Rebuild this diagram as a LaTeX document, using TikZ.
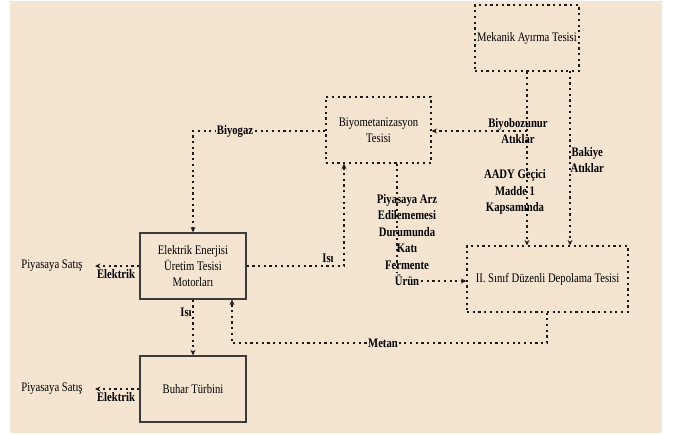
\documentclass[tikz,border=0pt]{standalone}
\usepackage{fontspec}
\setmainfont{Liberation Serif}[FakeStretch=0.82]
\usetikzlibrary{arrows.meta}
\definecolor{bg}{HTML}{F4E4D0}
\definecolor{ink}{HTML}{1A1A1A}
\tikzset{
  dl/.style={draw=ink, line width=1.1pt, dash pattern=on 2.2pt off 3.5pt},
  arr/.style={dl, -{Stealth[length=5.5pt,width=5pt]}},
  dbox/.style={dl, rectangle, minimum height=66pt, align=center, inner sep=0pt,
     font=\fontsize{13}{16}\selectfont},
  sbox/.style={draw=ink!85, line width=1.3pt, rectangle, minimum height=66pt, align=center,
     inner sep=0pt, font=\fontsize{13}{16}\selectfont},
  lab/.style={font=\fontsize{13}{16.5}\selectfont\bfseries, align=center, inner sep=0.5pt},
  flab/.style={lab, fill=bg},
  plain/.style={font=\fontsize{13}{16}\selectfont, inner sep=0pt}
}
\begin{document}
\begin{tikzpicture}[x=1pt,y=-1pt]
\useasboundingbox (0,0) rectangle (673,435);
\fill[bg] (10,1) rectangle (662,433);

% boxes
\node[dbox, minimum width=104pt] (mek) at (527,38) {Mekanik Ayırma Tesisi};
\node[dbox, minimum width=105pt] (bio) at (378.5,130) {Biyometanizasyon\\Tesisi};
\node[sbox, minimum width=106pt] (elk) at (193,266) {Elektrik Enerjisi\\Üretim Tesisi\\Motorları};
\node[sbox, minimum width=106pt] (buh) at (193,389) {Buhar Türbini};
\node[dbox, minimum width=161pt] (dep) at (547.5,279) {II. Sınıf Düzenli Depolama Tesisi};

% side labels
\node[plain] (ps1) at (52,266) {Piyasaya Satış};
\node[plain] (ps2) at (52,389) {Piyasaya Satış};
\coordinate (t1) at (95,266);
\coordinate (t2) at (95,389);

% coordinates
\coordinate (bg1) at (193,131);
\coordinate (is1) at (344,266);
\coordinate (me1) at (547,343);
\coordinate (me2) at (232,343);
\coordinate (bb1) at (527,131);
\coordinate (pa1) at (397,272);
\coordinate (ur1) at (421,281);

% connectors
\draw[arr] (bio.west |- bg1) -- (bg1) -- (elk.north);
\draw[arr] (elk.east |- is1) -- (is1) -- (is1 |- bio.south);
\draw[arr] (elk.south) -- (elk.south |- buh.north);
\draw[arr] (elk.west) -- (t1);
\draw[arr] (buh.west) -- (t2);
\draw[arr] (me1 |- dep.south) -- (me1) -- (me2) -- (me2 |- elk.south);
\draw[arr] (bb1 |- mek.south) -- (bb1 |- dep.north);
\draw[arr] (bb1) -- (bio.east |- bb1);
\draw[arr] (570,71) coordinate (bk0) -- (bk0 |- dep.north);
\draw[dl] (pa1 |- bio.south) -- (pa1);
\draw[arr] (ur1) -- (dep.west |- ur1);

% labels
\node[flab] (lbg) at (235,131) {Biyogaz};
\node[lab] (lis1) at (328,258) {Isı};
\node[flab] (lis2) at (186,312) {Isı};
\node[lab] (lel1) at (116,274) {Elektrik};
\node[lab] (lel2) at (116,397) {Elektrik};
\node[flab] (lme) at (383,343) {Metan};
\node[lab] (lbb) at (518,131) {Biyobozunur\\Atıklar};
\node[lab] (lad) at (515,192) {AADY Geçici\\Madde 1\\Kapsamında};
\node[lab, anchor=west] (lbk) at (570,160) {Bakiye\\Atıklar};
\node[lab] (lpa) at (407,240) {Piyasaya Arz\\Edilememesi\\Durumunda\\Katı\\Fermente\\Ürün};
\end{tikzpicture}
\end{document}
